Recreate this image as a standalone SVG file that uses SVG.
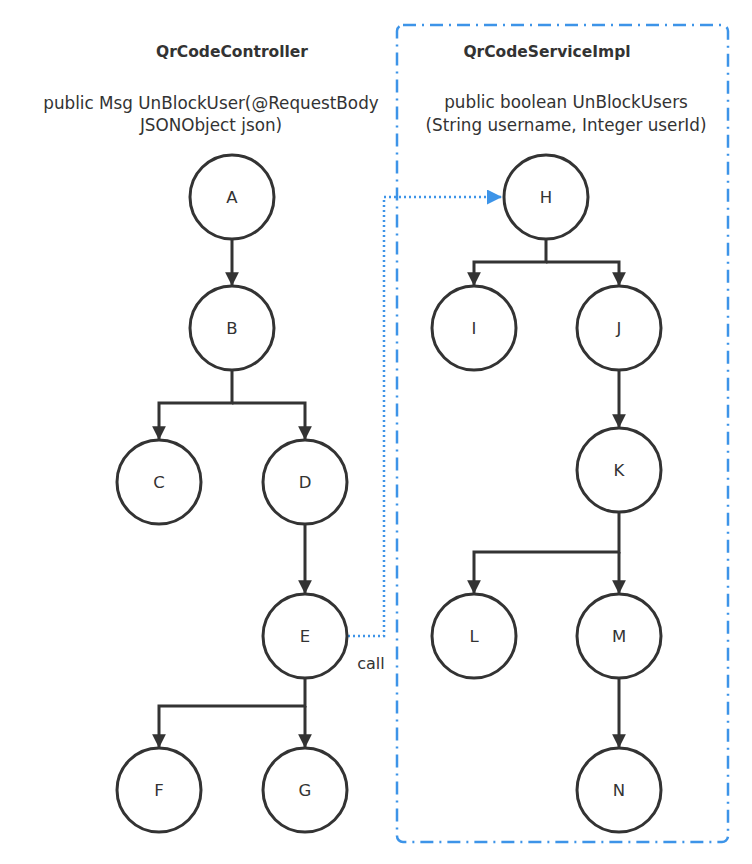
<svg xmlns="http://www.w3.org/2000/svg" width="752" height="864" viewBox="0 0 752 864">
  <defs>
    <marker id="arr" viewBox="0 0 10 10" refX="10" refY="5" markerWidth="4.6" markerHeight="4.6" markerUnits="strokeWidth" orient="auto">
      <path d="M0,0 L10,5 L0,10 Z" fill="#333"/>
    </marker>
    <marker id="arrBlue" viewBox="0 0 10 10" refX="10" refY="5" markerWidth="7" markerHeight="6" markerUnits="strokeWidth" orient="auto">
      <path d="M0,0 L10,5 L0,10 Z" fill="#3d94e8"/>
    </marker>
    <style>
      .node circle { fill: #fff; stroke: #333; stroke-width: 3; }
      .node text { font-family: "DejaVu Sans", "Liberation Sans", sans-serif; font-size: 16.5px; fill: #333; text-anchor: middle; }
      .edge { fill: none; stroke: #333; stroke-width: 3; marker-end: url(#arr); }
      .title { font-family: "DejaVu Sans", "Liberation Sans", sans-serif; font-size: 15.5px; font-weight: bold; fill: #333; text-anchor: middle; }
      .sig { font-family: "DejaVu Sans", "Liberation Sans", sans-serif; font-size: 16.8px; fill: #333; text-anchor: middle; }
      .lbl { font-family: "DejaVu Sans", "Liberation Sans", sans-serif; font-size: 16px; fill: #333; text-anchor: middle; }
      .call { fill: none; stroke: #3d94e8; stroke-width: 2.5; stroke-dasharray: 2 3; }
    </style>
  </defs>

  <!-- service boundary -->
  <rect x="397" y="25" width="331" height="817" rx="6" fill="none" stroke="#3d94e8" stroke-width="2.5" stroke-dasharray="13 6 2 6"/>

  <!-- headings -->
  <text class="title" x="232" y="57">QrCodeController</text>
  <text class="sig" x="211" y="109">public Msg UnBlockUser(@RequestBody</text>
  <text class="sig" x="211" y="131">JSONObject json)</text>
  <text class="title" x="547" y="57">QrCodeServiceImpl</text>
  <text class="sig" x="566" y="108">public boolean UnBlockUsers</text>
  <text class="sig" x="566" y="131">(String username, Integer userId)</text>

  <!-- connectors -->
  <g id="connectors">
    <path class="edge" d="M232,239 V286"/>
    <path class="edge" d="M232,370 V403 H159 V440"/>
    <path class="edge" d="M232,403 H305 V440"/>
    <path class="edge" d="M305,524 V594"/>
    <path class="edge" d="M305,678 V706 H159 V748"/>
    <path class="edge" d="M305,706 V748"/>
    <path class="edge" d="M546,239 V262 H474 V286"/>
    <path class="edge" d="M546,262 H619 V286"/>
    <path class="edge" d="M619,370 V428"/>
    <path class="edge" d="M619,512 V552 H474 V594"/>
    <path class="edge" d="M619,552 V594"/>
    <path class="edge" d="M619,678 V748"/>
    <path class="call" d="M348,636 H384 V197 H502" marker-end="url(#arrBlue)"/>
    <text class="lbl" x="371" y="669">call</text>
  </g>

  <!-- nodes -->
  <g id="node-A" class="node"><circle cx="232" cy="197" r="42"/><text x="232" y="203">A</text></g>
  <g id="node-B" class="node"><circle cx="232" cy="328" r="42"/><text x="232" y="334">B</text></g>
  <g id="node-C" class="node"><circle cx="159" cy="482" r="42"/><text x="159" y="488">C</text></g>
  <g id="node-D" class="node"><circle cx="305" cy="482" r="42"/><text x="305" y="488">D</text></g>
  <g id="node-E" class="node"><circle cx="305" cy="636" r="42"/><text x="305" y="642">E</text></g>
  <g id="node-F" class="node"><circle cx="159" cy="790" r="42"/><text x="159" y="796">F</text></g>
  <g id="node-G" class="node"><circle cx="305" cy="790" r="42"/><text x="305" y="796">G</text></g>
  <g id="node-H" class="node"><circle cx="546" cy="197" r="42"/><text x="546" y="203">H</text></g>
  <g id="node-I" class="node"><circle cx="474" cy="328" r="42"/><text x="474" y="334">I</text></g>
  <g id="node-J" class="node"><circle cx="619" cy="328" r="42"/><text x="619" y="334">J</text></g>
  <g id="node-K" class="node"><circle cx="619" cy="470" r="42"/><text x="619" y="476">K</text></g>
  <g id="node-L" class="node"><circle cx="474" cy="636" r="42"/><text x="474" y="642">L</text></g>
  <g id="node-M" class="node"><circle cx="619" cy="636" r="42"/><text x="619" y="642">M</text></g>
  <g id="node-N" class="node"><circle cx="619" cy="790" r="42"/><text x="619" y="796">N</text></g>
</svg>
